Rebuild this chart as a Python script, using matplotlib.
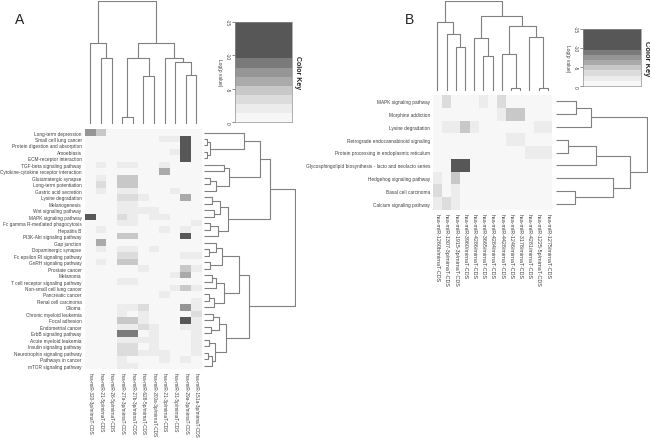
import numpy as np
import matplotlib.pyplot as plt
from matplotlib.colors import ListedColormap, BoundaryNorm

plt.rcParams['font.family'] = ['Liberation Sans', 'DejaVu Sans']

W, H = 650, 439

# ---- panel A data ----
rows_a = ["Long-term depression", "Small cell lung cancer", "Protein digestion and absorption",
          "Amoebiasis", "ECM-receptor interaction", "TGF-beta signaling pathway",
          "Cytokine-cytokine receptor interaction", "Glutamatergic synapse",
          "Long-term potentiation", "Gastric acid secretion", "Lysine degradation",
          "Melanogenesis", "Wnt signaling pathway", "MAPK signaling pathway",
          "Fc gamma R-mediated phagocytosis", "Hepatitis B", "PI3K-Akt signaling pathway",
          "Gap junction", "Dopaminergic synapse", "Fc epsilon RI signaling pathway",
          "GnRH signaling pathway", "Prostate cancer", "Melanoma",
          "T cell receptor signaling pathway", "Non-small cell lung cancer",
          "Pancreatic cancer", "Renal cell carcinoma", "Glioma", "Chronic myeloid leukemia",
          "Focal adhesion", "Endometrial cancer", "ErbB signaling pathway",
          "Acute myeloid leukemia", "Insulin signaling pathway",
          "Neurotrophin signaling pathway", "Pathways in cancer", "mTOR signaling pathway"]

cols_a = ["hsa-miR-320-3p/mirnaT-CDS", "hsa-miR-21-5p/mirnaT-CDS", "hsa-miR-26-5p/mirnaT-CDS",
          "hsa-miR-27a-3p/mirnaT-CDS", "hsa-miR-27b-3p/mirnaT-CDS", "hsa-miR-628-5p/mirnaT-CDS",
          "hsa-miR-200a-3p/mirnaT-CDS", "hsa-miR-21-3p/mirnaT-CDS", "hsa-miR-31-5p/mirnaT-CDS",
          "hsa-miR-29a-3p/mirnaT-CDS", "hsa-miR-151a-3p/mirnaT-CDS"]

# log(p value) per pathway (rows) and miRNA (columns)
vals_a = [
    [-7.5, -4.8, 0, 0, 0, 0, 0, 0, 0, 0, 0],
    [0, 0, 0, 0, 0, 0, 0, -2, -2, -12, 0],
    [0, 0, 0, 0, 0, 0, 0, 0, 0, -12, 0],
    [0, 0, 0, 0, 0, 0, 0, 0, -2, -12, 0],
    [0, 0, 0, 0, 0, 0, 0, 0, 0, -12, 0],
    [0, -2, 0, -2, -2, 0, 0, -2, 0, 0, 0],
    [0, 0, 0, 0, 0, 0, 0, -6, 0, 0, 0],
    [0, -2, 0, -4.8, -4.8, 0, 0, 0, 0, 0, 0],
    [0, -3.4, 0, -4.8, -4.8, 0, 0, 0, 0, 0, 0],
    [0, -2, 0, -2, -2, 0, 0, 0, -2, 0, 0],
    [0, 0, 0, -3.4, -3.4, -2, 0, 0, 0, -6, 0],
    [0, 0, 0, -2, -2, 0, 0, 0, 0, 0, 0],
    [0, 0, 0, -2, -2, -2, -2, 0, 0, 0, 0],
    [-12, 0, 0, -3.4, -2, 0, -2, -2, 0, 0, 0],
    [0, 0, 0, -2, -2, 0, 0, 0, 0, 0, -2],
    [0, -2, 0, 0, 0, 0, 0, -2, 0, -2, 0],
    [0, 0, 0, -4.8, -4.8, 0, 0, 0, 0, -12, 0],
    [0, -6, 0, 0, 0, 0, 0, 0, 0, 0, 0],
    [0, -2, 0, -2, -2, 0, -2, 0, 0, 0, 0],
    [0, 0, 0, -3.4, -3.4, 0, 0, 0, 0, -2, -2],
    [0, -2, 0, -4.8, -4.8, 0, 0, 0, 0, 0, 0],
    [0, 0, 0, 0, 0, -2, 0, 0, 0, -4.8, -2],
    [0, 0, 0, 0, 0, 0, 0, 0, -2, -6, 0],
    [0, 0, 0, -2, -2, 0, 0, 0, 0, 0, 0],
    [0, 0, 0, 0, 0, 0, 0, 0, -2, -4.8, -2],
    [0, 0, 0, 0, 0, 0, 0, -2, 0, 0, 0],
    [0, 0, 0, 0, 0, 0, 0, 0, 0, 0, -2],
    [0, 0, 0, -2, -2, -3.4, 0, 0, 0, -7.5, -2],
    [0, 0, 0, -2, 0, -2, 0, 0, 0, 0, -3.4],
    [0, 0, 0, -4.8, -4.8, -2, 0, 0, 0, -12, -2],
    [0, 0, 0, -2, -2, -3.4, -2, 0, 0, -2, -2],
    [0, 0, 0, -9, -9, 0, -2, 0, 0, 0, -2],
    [0, 0, 0, -2, -2, -2, -2, 0, 0, 0, -2],
    [0, 0, 0, -3.4, -3.4, 0, -2, 0, 0, 0, -2],
    [0, 0, 0, -3.4, -3.4, -2, -2, -2, 0, 0, -2],
    [0, 0, 0, -2, 0, 0, 0, -2, 0, -2, 0],
    [0, 0, 0, -2, -2, 0, 0, 0, 0, 0, 0],
]

# dendrograms: (left, right, height), leaves are row/column indices
tree_a_cols = ((0, (1, 2, 65.7), 80.7),
               (((3, 4, 6.7), (5, 6, 48.3), 66), (7, (8, (9, 10, 49), 61.7), 65.7), 80.7),
               123.3)

c1 = (0, ((1, 2, 3), (3, 4, 3), 6), 40)
c2 = ((5, 6, 20), ((7, 8, 6), 9, 12), 25)
c3 = (((10, 11, 8), (12, 13, 10), 16), ((14, 15, 6), 16, 14), 24)
c4 = ((17, (18, 19, 5), 12), (20, 21, 6), 18)
c5 = (((22, 23, 8), 24, 12), ((25, 26, 5), 27, 10), 20)
c6 = (((28, 29, 9), (30, 31, 7), 15), ((32, 33, 5), ((34, 35, 4), 36, 8), 11), 22)
tree_a_rows = (((c1, c2, 55), c3, 65), ((c4, c5, 35), c6, 45), 90)

# ---- panel B data ----
rows_b = ["MAPK signaling pathway", "Morphine addiction", "Lysine degradation",
          "Retrograde endocannabinoid signaling", "Protein processing in endoplasmic reticulum",
          "Glycosphingolipid biosynthesis - lacto and neolacto series",
          "Hedgehog signaling pathway", "Basal cell carcinoma", "Calcium signaling pathway"]

cols_b = ["hsa-miR-1260b/mirnaT-CDS", "hsa-miR-1307-3p/mirnaT-CDS", "hsa-miR-1915-3p/mirnaT-CDS",
          "hsa-miR-3960/mirnaT-CDS", "hsa-miR-4286/mirnaT-CDS", "hsa-miR-3665/mirnaT-CDS",
          "hsa-miR-4284/mirnaT-CDS", "hsa-miR-4428/mirnaT-CDS", "hsa-miR-1246/mirnaT-CDS",
          "hsa-miR-3178/mirnaT-CDS", "hsa-miR-4281/mirnaT-CDS", "hsa-miR-1225-5p/mirnaT-CDS",
          "hsa-miR-1275/mirnaT-CDS"]

vals_b = [
    [0, -3.4, 0, 0, 0, -2, 0, -3.4, 0, 0, 0, 0, 0],
    [0, 0, 0, 0, 0, 0, 0, -2, -4.8, -4.8, 0, 0, 0],
    [0, -2, -2, -4.8, -2, 0, 0, 0, 0, 0, 0, -2, -2],
    [0, 0, 0, 0, 0, 0, 0, 0, -2, -2, 0, 0, 0],
    [0, 0, 0, 0, 0, 0, 0, 0, 0, 0, -2, -2, -2],
    [0, 0, -12, -12, 0, 0, 0, 0, 0, 0, 0, 0, 0],
    [-2, 0, -4.8, 0, 0, 0, 0, 0, 0, 0, 0, 0, 0],
    [-3.4, 0, -2, 0, 0, 0, 0, 0, 0, 0, 0, 0, 0],
    [-2, -3.4, -2, 0, 0, 0, 0, 0, 0, 0, 0, 0, 0],
]

tree_b_cols = ((0, (1, (2, 3, 44), 56.7), 69),
               ((4, (5, 6, 34.4), 52.4), ((7, (8, 9, 2.5), 36.7), (10, (11, 12, 2.5), 53.4), 65), 75),
               90)
tree_b_rows = (((0, 1, 20), 2, 35), (((3, 4, 12), 5, 40), (6, (7, 8, 19), 56), 73), 90)

# colour key
key_bounds = [-15, -9.52, -8.16, -6.8, -5.44, -4.08, -2.72, -1.36, 0.01]
key_colors = ['#575757', '#7a7a7a', '#959595', '#aaaaaa', '#c8c8c8', '#dcdcdc', '#ececec', '#f7f7f7']
cmap = ListedColormap(key_colors)
norm = BoundaryNorm(key_bounds, cmap.N)

LINE = '#808080'
TXT = '#404040'

fig = plt.figure(figsize=(W / 100, H / 100), dpi=100)


def px_axes(x0, y0, x1, y1):
    return fig.add_axes([x0 / W, 1 - y1 / H, (x1 - x0) / W, (y1 - y0) / H])


def draw_tree(ax, node, side):
    if isinstance(node, int):
        return node + 0.5, 0.0
    left, right, h = node
    p1, h1 = draw_tree(ax, left, side)
    p2, h2 = draw_tree(ax, right, side)
    pos = [p1, p1, p2, p2]
    hts = [h1, h, h, h2]
    if side == 'top':
        ax.plot(pos, hts, color=LINE, lw=0.8, solid_capstyle='butt')
    else:
        ax.plot(hts, pos, color=LINE, lw=0.8, solid_capstyle='butt')
    return (p1 + p2) / 2, h


def heatmap(box, vals, rows, cols, fs_rows, fs_cols, pad):
    ax = px_axes(*box)
    data = np.array(vals)
    ax.pcolormesh(data, cmap=cmap, norm=norm)
    ax.set_xlim(0, data.shape[1])
    ax.set_ylim(data.shape[0], 0)
    ax.set_yticks(np.arange(len(rows)) + 0.5)
    ax.set_yticklabels(rows, fontsize=fs_rows, color=TXT)
    ax.set_xticks(np.arange(len(cols)) + 0.5)
    ax.set_xticklabels(cols, fontsize=fs_cols, color=TXT, rotation=-90, va='top', ha='center')
    ax.tick_params(length=0, pad=pad)
    for s in ax.spines.values():
        s.set_visible(False)
    return ax


def col_dendro(box, tree, n):
    ax = px_axes(*box)
    draw_tree(ax, tree, 'top')
    ax.set_xlim(0, n)
    ax.set_ylim(0, tree[2])
    ax.axis('off')


def row_dendro(box, tree, n):
    ax = px_axes(*box)
    draw_tree(ax, tree, 'right')
    ax.set_ylim(n, 0)
    ax.set_xlim(0, tree[2] + 1)
    ax.axis('off')


def color_key(box, title_fs, title_x):
    ax = px_axes(*box)
    mids = [(a + b) / 2 for a, b in zip(key_bounds[:-1], key_bounds[1:])]
    ax.pcolormesh([0, 1], key_bounds, np.array(mids).reshape(-1, 1), cmap=cmap, norm=norm)
    ax.set_ylim(0, -15)
    ax.set_xlim(0, 1)
    ax.set_xticks([])
    ax.set_yticks([-15, -10, -5, 0])
    ax.set_yticklabels(['-15', '-10', '-5', '0'], rotation=-90, va='center', fontsize=3.5, color=TXT)
    ax.tick_params(axis='y', length=2, width=0.5, pad=1.5, color='#606060')
    ax.set_ylabel('Log(p value)', rotation=-90, fontsize=3.5, color=TXT, labelpad=4, va='center')
    for s in ax.spines.values():
        s.set_linewidth(0.5)
        s.set_color('#909090')
    ax.text(title_x, 0.5, 'Color Key', transform=ax.transAxes, rotation=-90, va='center', ha='center',
            fontsize=title_fs, fontweight='bold', color='#222222')


# panel A
heatmap((85, 130.3, 201.6, 370), vals_a, rows_a, cols_a, 3.4, 3.4, 2.5)
col_dendro((85, 1.7, 201.6, 125), tree_a_cols, len(cols_a))
row_dendro((204, 130.3, 296, 370), tree_a_rows, len(rows_a))
color_key((235, 22.7, 291.7, 123.3), 5, 1.095)
fig.text(20 / W, 1 - 20 / H, 'A', fontsize=10, ha='center', va='center', color='#222222')

# panel B
heatmap((432.7, 96, 552.3, 211), vals_b, rows_b, cols_b, 3.4, 3.9, 2)
col_dendro((432.7, 1.7, 552.3, 91.7), tree_b_cols, len(cols_b))
row_dendro((556, 96, 648, 211), tree_b_rows, len(rows_b))
color_key((583, 30, 641, 87), 5.4, 1.095)
fig.text(410 / W, 1 - 20 / H, 'B', fontsize=10, ha='center', va='center', color='#222222')

fig.savefig('out.png', dpi=100)
